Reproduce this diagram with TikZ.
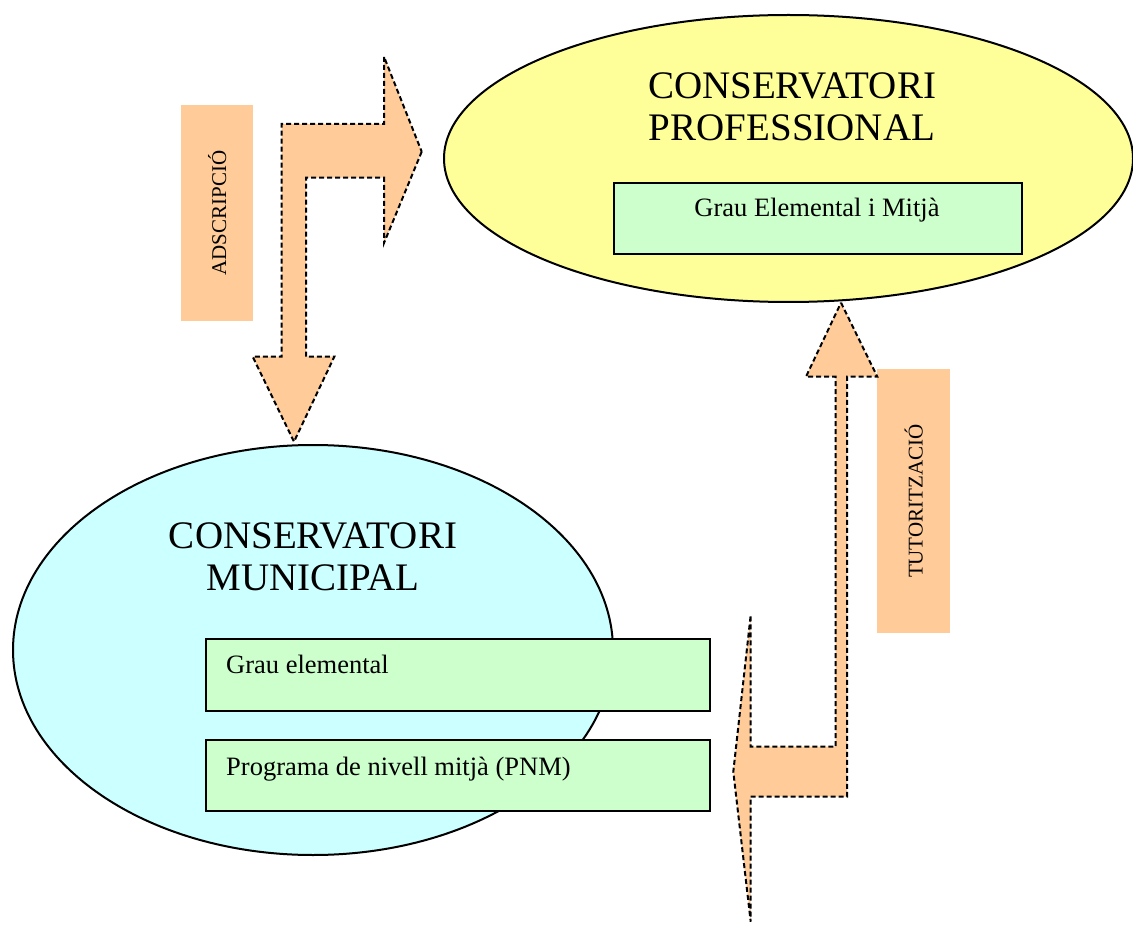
\documentclass[tikz,border=0pt]{standalone}
\usepackage{fontspec}
\setmainfont{Liberation Serif}
\usepackage{xcolor}
\usepackage{tikz}
\usetikzlibrary{shapes.geometric,positioning,calc}

\definecolor{profyellow}{HTML}{FFFF99}
\definecolor{municyan}{HTML}{CCFFFF}
\definecolor{gradegreen}{HTML}{CCFFCC}
\definecolor{peach}{HTML}{FFCC99}

\begin{document}
\begin{tikzpicture}[
    x=1pt, y=-1pt,
    school/.style={ellipse, draw, line width=2pt, inner sep=0pt},
    grade/.style={rectangle, draw, fill=gradegreen, line width=1.8pt, anchor=north west, inner sep=0pt},
    title/.style={align=center, font=\fontsize{39}{42.4}\selectfont},
    gradetext/.style={font=\fontsize{26.5}{30}\selectfont, inner sep=0pt},
    tag/.style={rectangle, fill=peach, anchor=north west, inner sep=0pt},
    tagtext/.style={rotate=90, font=\fontsize{21}{24}\selectfont, inner sep=0pt},
    blockarrow/.style={fill=peach, draw, line width=2pt, dash pattern=on 5pt off 3pt, line join=miter}
]
\useasboundingbox (0,0) rectangle (1133,925);

% Schools
\node[school, fill=profyellow, minimum width=689, minimum height=287] (prof) at (788.5,158.5) {};
\node[school, fill=municyan, minimum width=600, minimum height=410] (muni) at (313,650) {};

% Titles
\node[title, anchor=base] (proftitle) at (792,140.7) {CONSERVATORI\\PROFESSIONAL};
\node[title, anchor=base] (munititle) at (313,590.7) {CONSERVATORI\\MUNICIPAL};

% Grades
\node[grade, minimum width=408, minimum height=71] (profgrade) at (613,182) {};
\node[gradetext, anchor=base] at (817,216.7) {Grau Elemental i Mitjà};
\node[grade, minimum width=504, minimum height=72] (elemgrade) at (205,638) {};
\node[gradetext, anchor=base west] at (226,673.3) {Grau elemental};
\node[grade, minimum width=504, minimum height=71] (pnmgrade) at (205,739) {};
\node[gradetext, anchor=base west] at (226,775) {Programa de nivell mitjà (PNM)};

% Tags
\node[tag, minimum width=72, minimum height=216] (adstag) at (181,105) {};
\node[tagtext] at (adstag.center) {ADSCRIPCIÓ};
\node[tag, minimum width=73, minimum height=264] (tuttag) at (877,369) {};
\node[tagtext] at (tuttag.center) {TUTORITZACIÓ};

% Arrows
\coordinate (adstip) at (294,441.7);
\coordinate (tuttip) at (841,302.7);
\draw[blockarrow] (421.7,151.7) -- (384,243) -- (384,177.7) -- (306,177.7) -- (306,356.7)
    -- (334.3,356.7) -- (adstip) -- (252.7,356.7) -- (281.7,356.7) -- (281.7,124)
    -- (384,124) -- (384,56.7) -- cycle;
\draw[blockarrow] (tuttip) -- (877.3,376.7) -- (847,376.7) -- (847,796.7) -- (750.7,796.7)
    -- (750.7,921.7) -- (733.3,771.7) -- (750.7,615) -- (750.7,746.7) -- (835.7,746.7)
    -- (835.7,376.7) -- (806,376.7) -- cycle;

\end{tikzpicture}
\end{document}
